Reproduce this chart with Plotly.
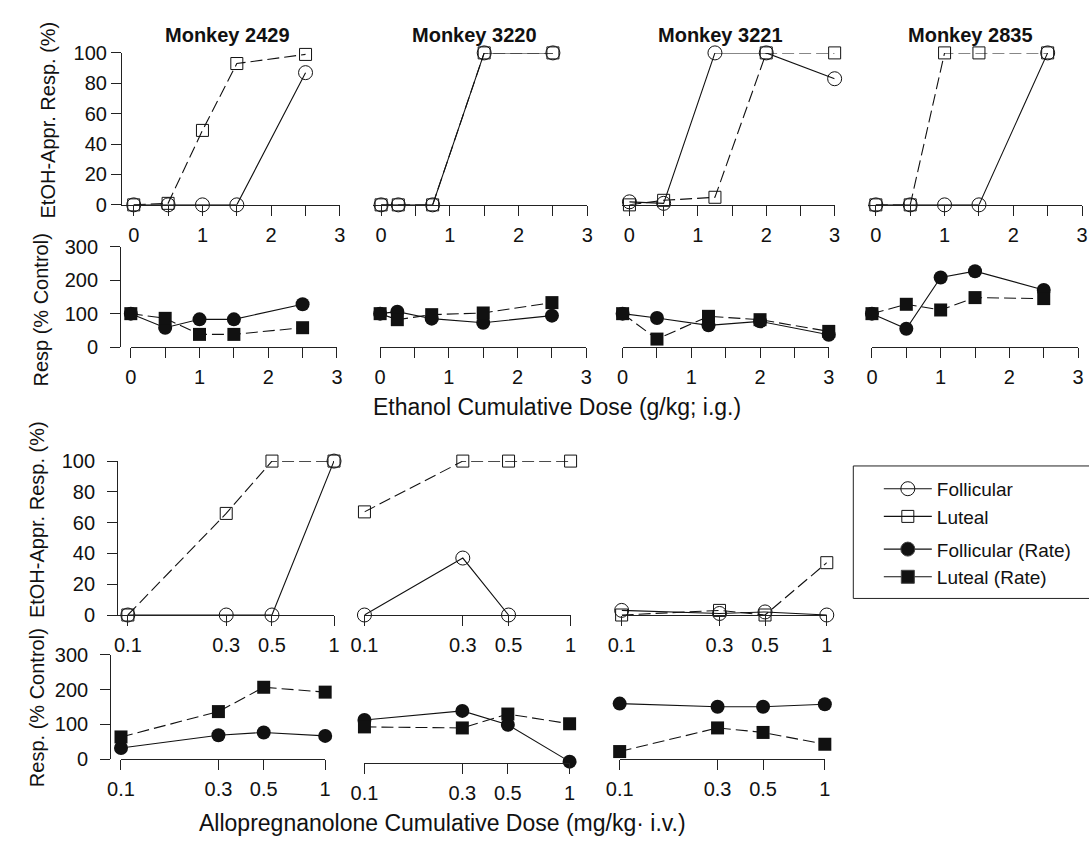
import plotly.graph_objects as go

W, H = 1089, 853

# ---------------- data: ethanol cumulative dose (g/kg; i.g.) ----------------
monkeys = ["Monkey 2429", "Monkey 3220", "Monkey 3221", "Monkey 2835"]

eth_dose_2429 = [0, 0.5, 1, 1.5, 2.5]
eth_fol_2429 = [0, 0, 0, 0, 87]
eth_lut_2429 = [0, 1, 49, 93, 99]
eth_fol_rate_2429 = [100, 58, 83, 83, 128]
eth_lut_rate_2429 = [100, 86, 38, 38, 58]

eth_dose_3220 = [0, 0.25, 0.75, 1.5, 2.5]
eth_fol_3220 = [0, 0, 0, 100, 100]
eth_lut_3220 = [0, 0, 0, 100, 100]
eth_fol_rate_3220 = [100, 106, 85, 73, 94]
eth_lut_rate_3220 = [100, 82, 97, 102, 133]

eth_dose_3221 = [0, 0.5, 1.25, 2, 3]
eth_fol_3221 = [2, 1, 100, 100, 83]
eth_lut_3221 = [0, 3, 5, 100, 100]
eth_fol_rate_3221 = [100, 87, 65, 77, 37]
eth_lut_rate_3221 = [100, 24, 92, 82, 47]

eth_dose_2835 = [0, 0.5, 1, 1.5, 2.5]
eth_fol_2835 = [0, 0, 0, 0, 100]
eth_lut_2835 = [0, 0, 100, 100, 100]
eth_fol_rate_2835 = [100, 55, 208, 227, 171]
eth_lut_rate_2835 = [100, 128, 111, 148, 145]

eth_tickvals = [0, 0.5, 1, 1.5, 2, 2.5, 3]
eth_ticktext = ["0", "", "1", "", "2", "", "3"]

# ---------------- data: allopregnanolone cumulative dose (mg/kg i.v.) -------
allo_dose = [0.1, 0.3, 0.5, 1]

allo_fol_a = [0, 0, 0, 100]
allo_lut_a = [0, 66, 100, 100]
allo_fol_rate_a = [32, 69, 77, 67]
allo_lut_rate_a = [64, 137, 207, 193]

allo_fol_b = [0, 37, 0, None]
allo_lut_b = [67, 100, 100, 100]
allo_fol_rate_b = [113, 139, 99, -7]
allo_lut_rate_b = [93, 90, 130, 102]

allo_fol_c = [3, 1, 2, 0]
allo_lut_c = [0, 3, 0, 34]
allo_fol_rate_c = [160, 151, 151, 158]
allo_lut_rate_c = [22, 90, 77, 43]

allo_tickvals = [0.1, 0.3, 0.5, 1]
allo_ticktext = ["0.1", "0.3", "0.5", "1"]

pct_ticks = [0, 20, 40, 60, 80, 100]
rate_ticks = [0, 100, 200, 300]

FONT = "Liberation Sans, Arial, sans-serif"
INK = "#111111"
AX = "#222222"
DASH = "12px,5px"
XSTANDOFF = 2


def fx(p):
    return p / W


def fy(p):
    return 1 - p / H


fig = go.Figure()
layout_axes = {}


def axis_names(i):
    s = "" if i == 1 else str(i)
    return "xaxis" + s, "yaxis" + s, "x" + s, "y" + s


def add_panel(i, xdom, ydom, xrange, yrange, xtype, xtv, xtt, ytv, show_y,
              y_free=None, y_standoff=0):
    xa, ya, xid, yid = axis_names(i)
    layout_axes[xa] = dict(
        domain=[fx(xdom[0]), fx(xdom[1])], range=xrange, type=xtype,
        anchor=yid, side="bottom", showgrid=False, zeroline=False,
        showline=True, linecolor=AX, linewidth=1,
        ticks="outside", ticklen=10, tickwidth=1, tickcolor=AX,
        tickmode="array", tickvals=xtv, ticktext=xtt,
        tickfont=dict(size=20, family=FONT, color=INK),
        ticklabelstandoff=XSTANDOFF, fixedrange=True,
    )
    ycfg = dict(
        domain=[fy(ydom[1]), fy(ydom[0])], range=yrange,
        showgrid=False, zeroline=False, fixedrange=True,
    )
    if show_y:
        ycfg.update(
            showline=True, linecolor=AX, linewidth=1,
            ticks="outside", ticklen=10, tickwidth=1, tickcolor=AX,
            tickmode="array", tickvals=ytv,
            tickfont=dict(size=20, family=FONT, color=INK),
            ticklabelstandoff=y_standoff,
        )
        if y_free is not None:
            ycfg.update(anchor="free", position=fx(y_free))
        else:
            ycfg.update(anchor=xid)
    else:
        ycfg.update(visible=False, anchor=xid)
    layout_axes[ya] = ycfg
    return xid, yid


def add_series(xid, yid, x, fol, lut):
    fig.add_trace(go.Scatter(
        x=x, y=fol, xaxis=xid, yaxis=yid, mode="lines+markers",
        line=dict(color=INK, width=1.1),
        marker=dict(symbol="circle-open", size=14, color=INK, line=dict(width=1)),
        showlegend=False, cliponaxis=False, hoverinfo="skip"))
    fig.add_trace(go.Scatter(
        x=x, y=lut, xaxis=xid, yaxis=yid, mode="lines+markers",
        line=dict(color=INK, width=1.1, dash=DASH),
        marker=dict(symbol="square-open", size=12, color=INK, line=dict(width=1)),
        showlegend=False, cliponaxis=False, hoverinfo="skip"))


def add_rate(xid, yid, x, fol, lut):
    fig.add_trace(go.Scatter(
        x=x, y=fol, xaxis=xid, yaxis=yid, mode="lines+markers",
        line=dict(color=INK, width=1.1),
        marker=dict(symbol="circle", size=14, color=INK),
        showlegend=False, cliponaxis=False, hoverinfo="skip"))
    fig.add_trace(go.Scatter(
        x=x, y=lut, xaxis=xid, yaxis=yid, mode="lines+markers",
        line=dict(color=INK, width=1.1, dash=DASH),
        marker=dict(symbol="square", size=13, color=INK),
        showlegend=False, cliponaxis=False, hoverinfo="skip"))


# ---------------- top block: ethanol ----------------
eth_sets = [
    (eth_dose_2429, eth_fol_2429, eth_lut_2429, eth_fol_rate_2429, eth_lut_rate_2429),
    (eth_dose_3220, eth_fol_3220, eth_lut_3220, eth_fol_rate_3220, eth_lut_rate_3220),
    (eth_dose_3221, eth_fol_3221, eth_lut_3221, eth_fol_rate_3221, eth_lut_rate_3221),
    (eth_dose_2835, eth_fol_2835, eth_lut_2835, eth_fol_rate_2835, eth_lut_rate_2835),
]
# geometry (pixels)
top_upper_x = [(110, 332, -0.171), (366, 584, -0.114), (619, 836, -0.114), (870, 1088, -0.114)]
top_lower_x = [(119, 329), (373, 583), (620, 830), (874, 1084)]
title_cx = [217, 469, 720, 974]

idx = 1
for c, (dose, fol, lut, frate, lrate) in enumerate(eth_sets):
    x0, x1, r0 = top_upper_x[c]
    xid, yid = add_panel(idx, (x0, x1), (43, 199), [r0, 3], [0, 100], "linear",
                         eth_tickvals, eth_ticktext, pct_ticks, show_y=(c == 0),
                         y_standoff=0)
    add_series(xid, yid, dose, fol, lut)
    idx += 1
    lx0, lx1 = top_lower_x[c]
    xid, yid = add_panel(idx, (lx0, lx1), (242, 345), [0, 3], [0, 300], "linear",
                         eth_tickvals, eth_ticktext, rate_ticks, show_y=(c == 0),
                         y_free=108, y_standoff=8)
    add_rate(xid, yid, dose, frate, lrate)
    idx += 1

# ---------------- bottom block: allopregnanolone ----------------
allo_sets = [
    (allo_fol_a, allo_lut_a, allo_fol_rate_a, allo_lut_rate_a),
    (allo_fol_b, allo_lut_b, allo_fol_rate_b, allo_lut_rate_b),
    (allo_fol_c, allo_lut_c, allo_fol_rate_c, allo_lut_rate_c),
]
bot_upper_x = [(106, 326, -1.0476), (357, 567, -1.0), (619, 828, -1.0)]
bot_lower_x = [(109, 317), (357, 566), (617, 826)]
# lower panels: 0 at 768 px, 300 at 661 px; middle panel reaches slightly below 0
bot_lower_y = [((661, 768), [0, 300]), ((661, 771.6), [-10, 300]), ((661, 768), [0, 300])]

for c, (fol, lut, frate, lrate) in enumerate(allo_sets):
    x0, x1, r0 = bot_upper_x[c]
    xid, yid = add_panel(idx, (x0, x1), (462, 620), [r0, 0], [0, 100], "log",
                         allo_tickvals, allo_ticktext, pct_ticks, show_y=(c == 0),
                         y_standoff=8)
    add_series(xid, yid, allo_dose, fol, lut)
    idx += 1
    lx0, lx1 = bot_lower_x[c]
    ydom, yr = bot_lower_y[c]
    xid, yid = add_panel(idx, (lx0, lx1), ydom, [-1, 0], yr, "log",
                         allo_tickvals, allo_ticktext, rate_ticks, show_y=(c == 0),
                         y_free=98, y_standoff=8)
    add_rate(xid, yid, allo_dose, frate, lrate)
    idx += 1

# ---------------- legend (solid-line keys) ----------------
legend_items = [
    ("Follicular", "circle-open", 14, "g1"),
    ("Luteal", "square-open", 12, "g1"),
    ("Follicular (Rate)", "circle", 14, "g2"),
    ("Luteal (Rate)", "square", 13, "g2"),
]
for name, sym, sz, grp in legend_items:
    fig.add_trace(go.Scatter(
        x=[None], y=[None], xaxis="x", yaxis="y", mode="lines+markers", name=name,
        legendgroup=grp, line=dict(color=INK, width=1.1),
        marker=dict(symbol=sym, size=sz, color=INK, line=dict(width=1)),
        showlegend=True))

annotations = []
for c, name in enumerate(monkeys):
    annotations.append(dict(
        text="<b>%s</b>" % name, x=fx(title_cx[c]), y=fy(25), xref="paper", yref="paper",
        xanchor="center", yanchor="middle", showarrow=False,
        font=dict(size=20, family=FONT, color=INK)))


def ytitle(text, cx, cy):
    annotations.append(dict(
        text=text, x=fx(cx), y=fy(cy), xref="paper", yref="paper", textangle=-90,
        xanchor="center", yanchor="middle", showarrow=False,
        font=dict(size=20, family=FONT, color=INK)))


ytitle("EtOH-Appr. Resp. (%)", 35, 112)
ytitle("Resp (% Control)", 28, 307)
ytitle("EtOH-Appr. Resp. (%)", 23, 522)
ytitle("Resp. (% Control)", 23, 715)

annotations.append(dict(
    text="Ethanol Cumulative Dose (g/kg; i.g.)", x=fx(553), y=fy(406),
    xref="paper", yref="paper", xanchor="center", yanchor="middle", showarrow=False,
    font=dict(size=23, family=FONT, color=INK)))
annotations.append(dict(
    text="Allopregnanolone Cumulative Dose (mg/kg· i.v.)", x=fx(437), y=fy(833),
    xref="paper", yref="paper", xanchor="center", yanchor="middle", showarrow=False,
    font=dict(size=23, family=FONT, color=INK)))

fig.update_layout(
    width=W, height=H, margin=dict(l=0, r=0, t=0, b=0, pad=0),
    paper_bgcolor="white", plot_bgcolor="rgba(0,0,0,0)",
    font=dict(family=FONT, color=INK, size=20),
    showlegend=True,
    legend=dict(
        x=fx(881), y=fy(471), xanchor="left", yanchor="top",
        bgcolor="rgba(0,0,0,0)", borderwidth=0, itemwidth=48,
        traceorder="grouped", tracegroupgap=5,
        font=dict(size=19, family=FONT, color=INK),
    ),
    shapes=[dict(type="rect", xref="paper", yref="paper",
                 x0=fx(855), x1=fx(1100), y0=fy(603), y1=fy(467),
                 line=dict(color=AX, width=1), fillcolor="rgba(0,0,0,0)", layer="below")],
    annotations=annotations,
    **layout_axes,
)

fig.write_html("out.html", config={"displayModeBar": False, "staticPlot": True},
               post_script="document.body.style.margin='0';")
